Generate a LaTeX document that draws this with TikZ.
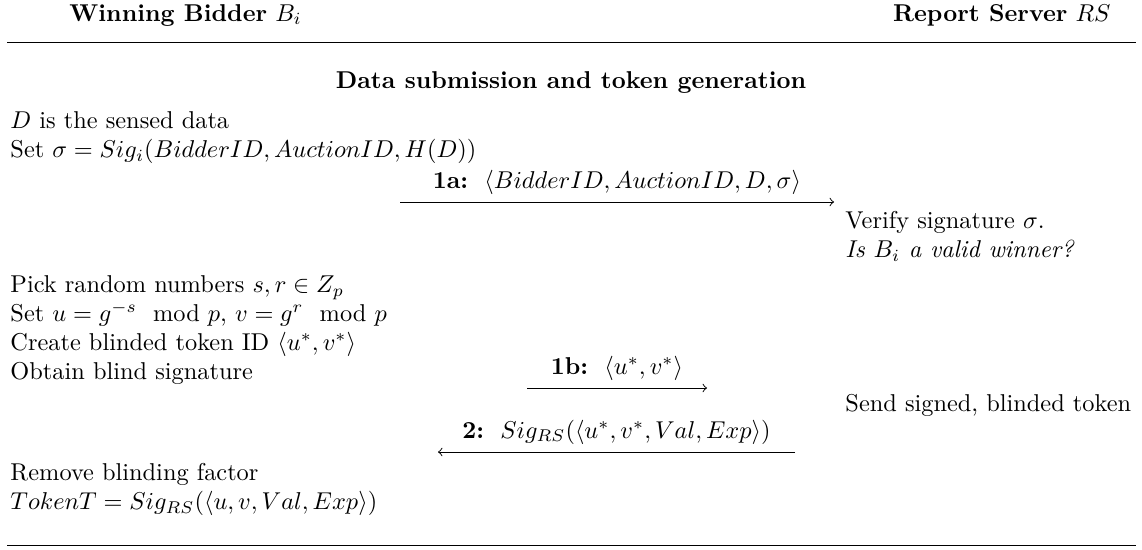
\documentclass[tikz,border=0pt]{standalone}
\usepackage{amsmath}
\usepackage{amssymb}
\usetikzlibrary{arrows,positioning}

\begin{document}
\begin{tikzpicture}[x=0.41068pt,y=-0.41068pt,->,>=to,
    txt/.style={anchor=west,inner sep=0pt,text height=1.6ex,text depth=0.3ex},
    party/.style={inner sep=0pt},
    msg/.style={above=3pt,inner sep=0pt}]
  \useasboundingbox (0,0) rectangle (1142,549);
  % parties
  \node[party,anchor=west] (bidder) at (69,15) {\textbf{Winning Bidder} $B_i$};
  \node[party,anchor=east] (server) at (1111,15) {\textbf{Report Server} $RS$};
  \coordinate (topl) at (7,42);
  \coordinate (topr) at (1136,42);
  \coordinate (botl) at (7,545);
  \coordinate (botr) at (1136,545);
  \draw[-] (topl) -- (topr);
  \draw[-] (botl) -- (botr);
  \node (phase) at (571,82) {\textbf{Data submission and token generation}};
  % bidder side
  \node[txt] (sensed) at (10,122) {$D$ is the sensed data};
  \node[txt] (setsig) at (10,151) {Set $\sigma = Sig_i(BidderID, AuctionID, H(D))$};
  \node[txt] (pick) at (10,286) {Pick random numbers $s, r \in Z_p$};
  \node[txt] (setuv) at (10,315) {Set $u = g^{-s} \mod p$, $v = g^{r} \mod p$};
  \node[txt] (create) at (10,344) {Create blinded token ID $\langle u^*, v^* \rangle$};
  \node[txt] (obtain) at (10,373) {Obtain blind signature};
  \node[txt] (remove) at (10,474) {Remove blinding factor};
  \node[txt] (token) at (10,503) {$TokenT = Sig_{RS}(\langle u, v, Val, Exp \rangle)$};
  % server side
  \node[txt] (verify) at (845,222) {Verify signature $\sigma$.};
  \node[txt] (valid) at (845,251) {\textit{Is $B_i$ a valid winner?}};
  \node[txt] (send) at (845,405) {Send signed, blinded token};
  % messages
  \coordinate (m1as) at (400,202);
  \coordinate (m1ae) at (834,202);
  \coordinate (m1bs) at (527,388);
  \coordinate (m1be) at (707,388);
  \coordinate (m2s) at (795,452);
  \coordinate (m2e) at (438,452);
  \draw (m1as) -- node[msg] (m1a) {\textbf{1a:}\ \ $\langle BidderID, AuctionID, D, \sigma \rangle$} (m1ae);
  \draw (m1bs) -- node[msg] (m1b) {\textbf{1b:}\ \ $\langle u^*, v^* \rangle$} (m1be);
  \draw (m2s) -- node[msg] (m2) {\textbf{2:}\ \ $Sig_{RS}(\langle u^*, v^*, Val, Exp \rangle)$} (m2e);
\end{tikzpicture}
\end{document}
